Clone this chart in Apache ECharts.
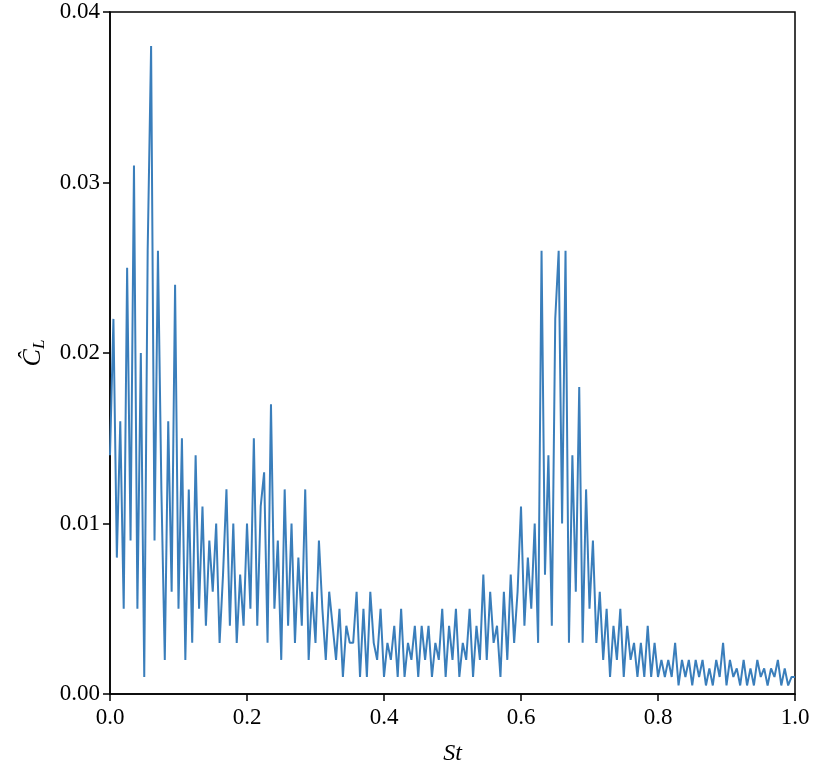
<!DOCTYPE html>
<html>
<head>
<meta charset="utf-8">
<script src="https://cdn.jsdelivr.net/npm/echarts@6/dist/echarts.min.js"></script>
<style>html,body{margin:0;padding:0;background:#fff}#chart{width:817px;height:771px}</style>
</head>
<body>
<div id="chart"></div>
<script>
// frequency step of the spectrum bins
var step = 0.005;
// amplitude in units of 1e-3, one per bin from St = 0
var amp = [
    14, 22, 8, 16, 5, 25, 9, 31, 5, 20, 1, 26, 38, 9, 26, 12, 2, 16, 6, 24, 5,
    15, 2, 12, 3, 14, 5, 11, 4, 9, 6, 10, 3, 7, 12, 4, 10, 3, 7, 4, 10,
    5, 15, 4, 11, 13, 3, 17, 5, 9, 2, 12, 4, 10, 3, 8, 4, 12, 2, 6, 3,
    9, 5, 2, 6, 4, 2, 5, 1, 4, 3, 3, 6, 1, 5, 1, 6, 3, 2, 5, 1,
    3, 2, 4, 1, 5, 1, 3, 2, 4, 1, 4, 2, 4, 1, 3, 2, 5, 1, 4, 2,
    5, 1, 3, 2, 5, 1, 4, 2, 7, 2, 6, 3, 4, 1, 6, 2, 7, 3, 6, 11,
    4, 8, 5, 10, 3, 26, 7, 14, 4, 22, 26, 10, 26, 3, 14, 6, 18, 3, 12, 5,
    9, 3, 6, 2, 5, 1, 4, 2, 5, 1, 4, 2, 3, 1, 3, 1, 4, 1, 3, 1,
    2, 1, 2, 1, 3, 0.5, 2, 1, 2, 0.5, 2, 1, 2, 0.5, 1.5, 0.5, 2, 1, 3, 0.5,
    2, 1, 1.5, 0.5, 2, 0.5, 1.5, 0.5, 2, 1, 1.5, 0.5, 1.5, 1, 2, 0.5, 1.5, 0.5, 1, 1
];

var points = [];
for (var i = 0; i < amp.length; i++) {
    points.push([i * step, amp[i]]);
}

var font = 'Liberation Serif';
var axisCommon = {
    axisLine: {show: true, onZero: false, lineStyle: {color: '#000', width: 1.5}},
    axisTick: {show: true, inside: false, length: 7, lineStyle: {color: '#000', width: 1.5}},
    splitLine: {show: false},
    axisLabel: {color: '#000', fontFamily: font, fontSize: 23, margin: 10}
};

var chart = echarts.init(document.getElementById('chart'));
chart.setOption({
    animation: false,
    grid: {left: 110, right: 22, top: 12, bottom: 73, show: true, borderColor: '#000', borderWidth: 1.5},
    xAxis: $ext(axisCommon, {
        type: 'value', min: 0, max: 1, interval: 0.2,
        name: 'St', nameLocation: 'middle', nameGap: 48,
        nameTextStyle: {fontFamily: font, fontSize: 24, fontStyle: 'italic', color: '#000'},
        axisLabel: {color: '#000', fontFamily: font, fontSize: 23, margin: 12, formatter: function (v) { return v.toFixed(1); }}
    }),
    yAxis: $ext(axisCommon, {
        type: 'value', min: 0, max: 40, interval: 10,
        name: '{c|Ĉ}{s|L}', nameLocation: 'middle', nameGap: 62,
        nameTextStyle: {rich: {
            c: {fontFamily: font, fontSize: 26, fontStyle: 'italic', color: '#000'},
            s: {fontFamily: font, fontSize: 17, fontStyle: 'italic', color: '#000', verticalAlign: 'bottom', padding: [12, 0, 0, 0]}
        }},
        axisLabel: {color: '#000', fontFamily: font, fontSize: 23, margin: 10, formatter: function (v) { return (v / 1000).toFixed(2); }}
    }),
    series: [{
        type: 'line',
        data: points,
        showSymbol: false,
        lineStyle: {color: '#3a7ebb', width: 2}
    }]
});

function $ext(a, b) {
    var o = {};
    for (var k in a) o[k] = a[k];
    for (var k2 in b) o[k2] = b[k2];
    return o;
}
</script>
</body>
</html>
